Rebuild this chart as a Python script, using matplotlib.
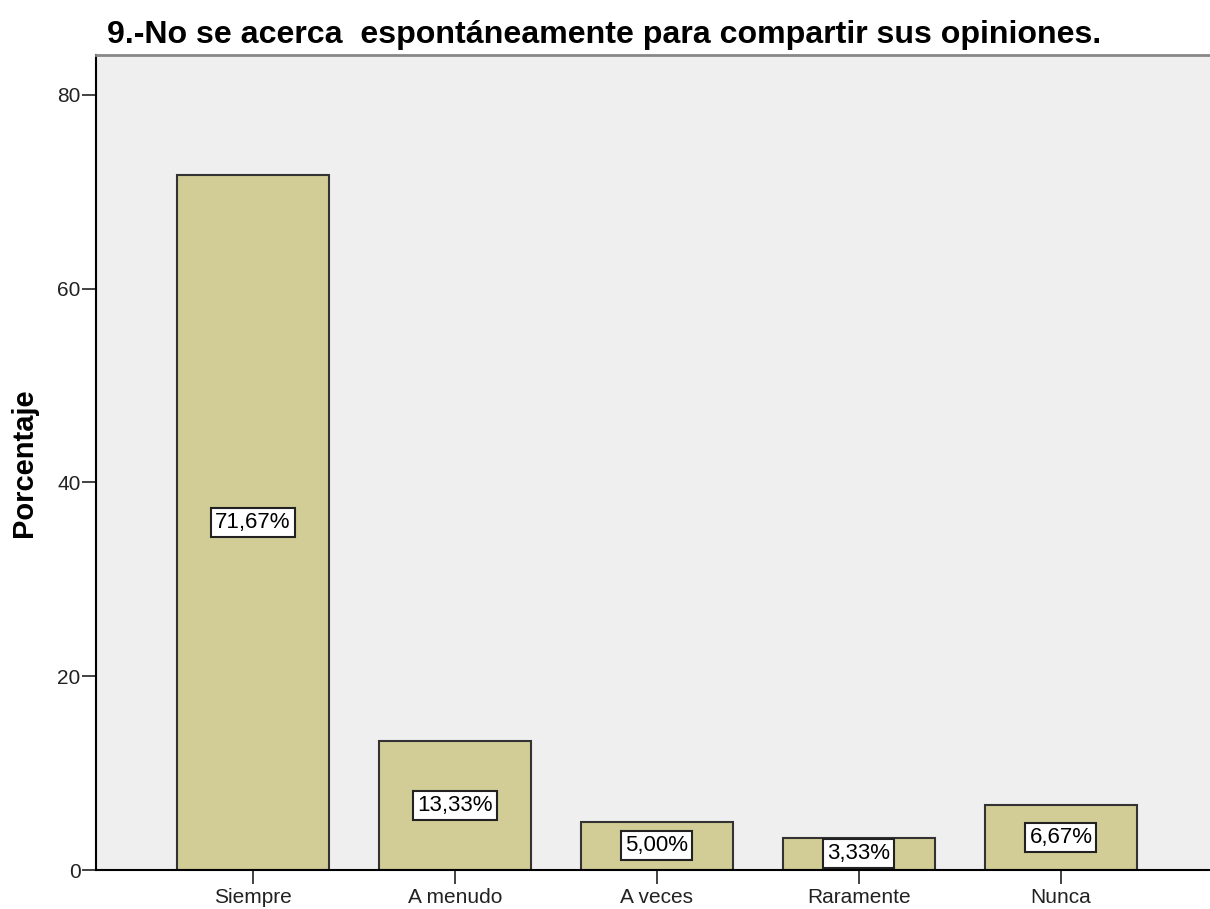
import matplotlib.pyplot as plt
import numpy as np

plt.rcParams['font.family'] = ['Liberation Sans', 'DejaVu Sans']

categorias = ['Siempre', 'A menudo', 'A veces', 'Raramente', 'Nunca']
porcentajes = [71.67, 13.33, 5.00, 3.33, 6.67]
etiquetas = ['71,67%', '13,33%', '5,00%', '3,33%', '6,67%']
titulo = '9.-No se acerca  espontáneamente para compartir sus opiniones.'

fig = plt.figure(figsize=(12.1, 9.09), dpi=100)
ax = fig.add_axes([0.0793, 0.0429, 0.9207, 0.8966])
ax.set_facecolor('#efefef')

x = np.arange(len(categorias))
ax.bar(x, porcentajes, width=0.752, color='#d2cd96', edgecolor='#333333', linewidth=1.5, zorder=2)

for xi, val, txt in zip(x, porcentajes, etiquetas):
    ax.text(xi, val / 2, txt, ha='center', va='center', fontsize=16, zorder=3,
            bbox=dict(boxstyle='square,pad=0.18', facecolor='white', edgecolor='#222222', linewidth=1.5))

ax.set_xlim(-0.777, 4.738)
ax.set_ylim(0, 84.1)
ax.set_yticks([0, 20, 40, 60, 80])
ax.set_xticks(x)
ax.set_xticklabels(categorias, fontsize=15)
ax.tick_params(axis='y', labelsize=15, length=10, width=1.2, pad=1, colors='#222222')
ax.tick_params(axis='x', length=10, width=1.2, pad=3, colors='#222222')
ax.set_ylabel('Porcentaje', fontsize=21, fontweight='bold', labelpad=14)

ax.spines['right'].set_visible(False)
ax.spines['top'].set_color('#888888')
ax.spines['top'].set_linewidth(2)
ax.spines['left'].set_linewidth(1.5)
ax.spines['bottom'].set_linewidth(1.5)

fig.text(0.0884, 0.962, titulo, fontsize=23.1, fontweight='bold', ha='left', va='center')

fig.savefig('out.png', dpi=100)
